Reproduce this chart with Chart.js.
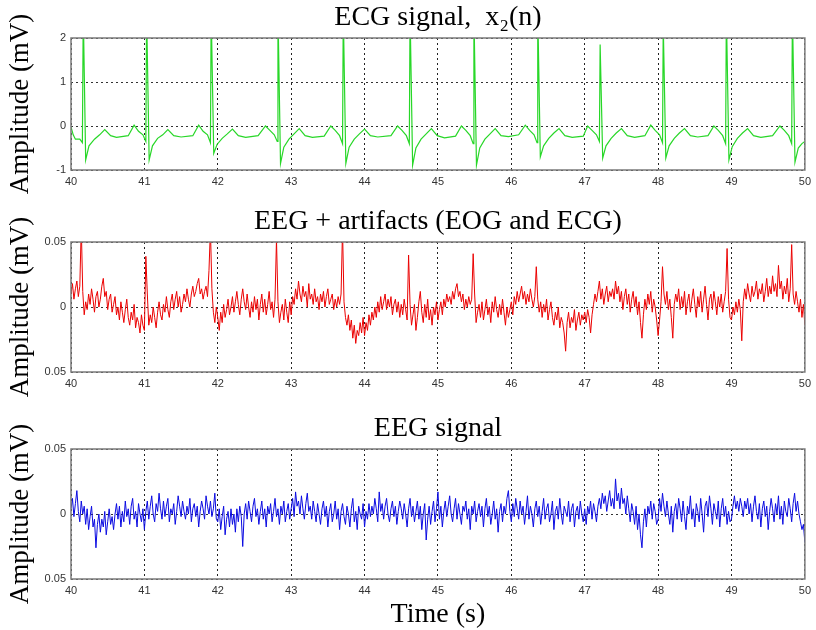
<!DOCTYPE html>
<html>
<head>
<meta charset="utf-8">
<script src="https://cdn.jsdelivr.net/npm/chart.js@4.4.1/dist/chart.umd.min.js"></script>
<style>
  body { margin: 0; background: #fff; }
  canvas { position: absolute; left: 0; }
</style>
</head>
<body>
<canvas id="ecgChart" width="816" height="200" style="top:0"></canvas>
<canvas id="mixChart" width="816" height="200" style="top:200px"></canvas>
<canvas id="eegChart" width="816" height="230" style="top:400px"></canvas>
<script>
// time ticks (s)
const timeTicks = [40, 41, 42, 43, 44, 45, 46, 47, 48, 49, 50];

// ECG signal x2(n): key points (time s, mV)
const ecgTime = [
  40.00, 40.03, 40.06, 40.12, 40.155,
  40.167, 40.20, 40.245, 40.32, 40.39, 40.46, 40.54, 40.62, 40.78,
  40.86, 40.92, 40.98, 41.02, 41.03, 41.065, 41.11, 41.18, 41.25, 41.32, 41.40, 41.50, 41.66,
  41.74, 41.80, 41.86, 41.90, 41.91, 41.945, 41.99, 42.06, 42.13, 42.20, 42.28, 42.38, 42.55,
  42.65, 42.71, 42.77, 42.81, 42.82, 42.855, 42.90, 42.97, 43.04, 43.11, 43.19, 43.29, 43.45,
  43.54, 43.60, 43.66, 43.70, 43.71, 43.745, 43.79, 43.86, 43.93, 44.00, 44.08, 44.18, 44.36,
  44.45, 44.51, 44.57, 44.61, 44.62, 44.655, 44.70, 44.77, 44.84, 44.91, 44.99, 45.09, 45.24,
  45.32, 45.38, 45.44, 45.48, 45.49, 45.525, 45.57, 45.64, 45.71, 45.78, 45.86, 45.96, 46.10,
  46.19, 46.25, 46.31, 46.35, 46.36, 46.395, 46.44, 46.51, 46.58, 46.65, 46.73, 46.83, 46.98,
  47.04, 47.10, 47.16, 47.20, 47.21, 47.245, 47.29, 47.36, 47.43, 47.50, 47.58, 47.68, 47.82,
  47.90, 47.96, 48.02, 48.06, 48.07, 48.105, 48.15, 48.22, 48.29, 48.36, 48.44, 48.54, 48.68,
  48.76, 48.82, 48.88, 48.92, 48.93, 48.965, 49.01, 49.08, 49.15, 49.22, 49.30, 49.40, 49.56,
  49.66, 49.72, 49.78, 49.82, 49.83, 49.865, 49.91, 49.96, 50.00
];
const ecgValues = [
  -0.02, -0.20, -0.30, -0.30, -0.38,
  2.6, -0.77, -0.45, -0.30, -0.20, -0.08, -0.22, -0.26, -0.22,
  0.02, -0.12, -0.20, -0.35, 2.6, -0.77, -0.45, -0.28, -0.20, -0.08, -0.22, -0.25, -0.22,
  0.02, -0.12, -0.20, -0.38, 2.6, -0.62, -0.42, -0.28, -0.18, -0.07, -0.22, -0.26, -0.22,
  0.00, -0.10, -0.20, -0.35, 2.6, -0.85, -0.48, -0.30, -0.18, -0.06, -0.22, -0.26, -0.23,
  0.00, -0.10, -0.22, -0.40, 2.6, -0.85, -0.48, -0.30, -0.18, -0.07, -0.22, -0.25, -0.22,
  0.00, -0.10, -0.22, -0.40, 2.6, -0.89, -0.50, -0.30, -0.18, -0.06, -0.22, -0.27, -0.23,
  0.00, -0.10, -0.22, -0.40, 2.6, -0.89, -0.50, -0.30, -0.18, -0.06, -0.22, -0.24, -0.20,
  0.02, -0.10, -0.20, -0.38, 2.6, -0.70, -0.45, -0.28, -0.16, -0.06, -0.22, -0.26, -0.23,
  0.00, -0.10, -0.20, -0.35, 1.85, -0.73, -0.45, -0.28, -0.16, -0.06, -0.22, -0.26, -0.22,
  0.02, -0.10, -0.20, -0.38, 2.3, -0.73, -0.45, -0.28, -0.16, -0.06, -0.22, -0.25, -0.22,
  0.00, -0.10, -0.22, -0.40, 2.6, -0.77, -0.47, -0.28, -0.16, -0.06, -0.22, -0.26, -0.22,
  0.00, -0.10, -0.22, -0.40, 2.6, -0.82, -0.50, -0.40, -0.35
];

// EEG traces sampled every 0.02 s from 40 s (mV), one row per second
const eegStart = 40;
const eegStep = 0.02;
const eegArtifacts = [
  0.010, 0.018, 0.006, 0.014, 0.020, 0.008, 0.016, 0.062, 0.012, -0.006, 0.004, -0.002, 0.010, 0.002, 0.014, 0.006, -0.004, 0.008, 0.012, 0.000, 0.006, 0.016, 0.022, 0.008, 0.012, -0.002, 0.006, 0.010, -0.004, 0.002, 0.008, -0.006, 0.000, -0.010, 0.004, -0.004, -0.012, -0.002, 0.006, -0.008, -0.014, -0.004, -0.010, 0.002, -0.016, -0.008, -0.012, -0.020, -0.006, -0.014,
  -0.018, 0.039, 0.010, -0.014, -0.006, -0.012, 0.000, -0.008, -0.016, -0.004, 0.004, -0.006, -0.010, 0.002, -0.004, 0.008, -0.002, -0.008, 0.004, 0.010, -0.002, 0.006, 0.012, 0.000, 0.008, -0.004, 0.002, 0.010, 0.004, 0.014, 0.006, 0.000, 0.010, 0.016, 0.008, 0.012, 0.018, 0.022, 0.010, 0.014, 0.006, 0.012, 0.016, 0.008, 0.028, 0.060, 0.014, -0.004, -0.012, 0.000,
  -0.008, -0.018, -0.004, -0.012, 0.002, -0.008, -0.002, 0.006, -0.006, 0.000, 0.008, -0.004, 0.004, 0.012, 0.002, -0.006, 0.006, 0.014, 0.004, -0.002, 0.010, 0.000, -0.008, 0.004, -0.004, 0.008, -0.002, 0.006, -0.010, 0.002, 0.010, -0.004, 0.006, -0.006, 0.002, 0.012, -0.002, 0.004, -0.008, 0.006, 0.052, 0.004, -0.012, -0.004, 0.002, -0.010, 0.006, -0.004, -0.012, 0.004,
  -0.006, 0.008, 0.002, 0.014, 0.006, 0.020, 0.010, 0.004, 0.016, 0.008, 0.012, 0.000, 0.018, 0.006, 0.010, 0.002, 0.014, 0.004, 0.008, -0.002, 0.010, 0.004, 0.012, 0.000, 0.008, 0.014, 0.002, 0.006, 0.010, -0.002, 0.006, 0.000, 0.008, 0.002, 0.010, 0.060, 0.004, -0.008, -0.014, -0.006, -0.018, -0.010, -0.024, -0.014, -0.028, -0.018, -0.022, -0.012, -0.020, -0.008,
  -0.022, -0.012, -0.018, -0.006, -0.014, -0.004, -0.010, 0.000, -0.008, 0.004, -0.004, 0.008, -0.002, 0.004, 0.010, -0.002, 0.006, 0.000, 0.008, -0.006, 0.002, 0.006, -0.004, 0.004, -0.008, 0.002, -0.006, 0.006, -0.002, -0.010, 0.040, 0.002, -0.014, -0.006, 0.002, -0.018, -0.008, 0.004, 0.012, -0.004, -0.012, 0.002, -0.008, 0.006, -0.010, -0.002, -0.014, 0.000, -0.006, 0.004,
  -0.010, -0.002, 0.004, -0.006, 0.006, 0.000, 0.010, 0.004, 0.008, 0.002, 0.012, 0.006, 0.014, 0.018, 0.008, 0.012, 0.004, 0.010, -0.002, 0.006, 0.000, 0.008, 0.002, 0.006, 0.041, 0.010, -0.012, -0.004, 0.002, -0.008, 0.004, -0.010, -0.002, 0.006, -0.006, 0.000, -0.012, 0.004, -0.004, 0.008, -0.002, -0.008, 0.002, -0.006, 0.006, -0.004, -0.014, 0.000, -0.008, -0.002,
  0.004, -0.006, 0.008, 0.002, 0.012, 0.004, 0.010, 0.016, 0.006, 0.012, 0.002, 0.010, 0.004, 0.014, 0.006, 0.000, 0.008, 0.031, 0.006, -0.004, 0.004, -0.008, 0.002, -0.004, 0.006, -0.010, -0.002, 0.004, -0.008, -0.014, -0.004, -0.010, 0.000, -0.016, -0.008, -0.012, -0.020, -0.034, -0.012, -0.004, -0.016, -0.008, -0.012, -0.002, -0.018, -0.010, -0.004, -0.014, -0.006, -0.010,
  -0.004, -0.012, -0.002, -0.008, -0.020, -0.006, 0.002, 0.010, 0.004, 0.012, 0.020, 0.006, 0.014, 0.002, 0.010, 0.016, 0.004, 0.012, 0.008, 0.014, 0.006, 0.020, 0.010, 0.016, 0.004, 0.012, -0.002, 0.008, 0.014, 0.002, 0.010, -0.004, 0.006, 0.012, 0.000, 0.008, -0.006, 0.004, -0.012, -0.024, -0.006, 0.006, -0.002, 0.010, 0.002, 0.012, -0.004, 0.006, 0.000, -0.010,
  -0.022, -0.010, 0.004, 0.031, 0.010, 0.002, 0.012, -0.002, 0.006, -0.008, -0.024, 0.002, 0.010, 0.004, 0.014, -0.002, 0.008, 0.000, 0.012, -0.006, 0.004, 0.010, -0.004, 0.006, 0.014, 0.002, -0.008, 0.008, 0.000, 0.012, -0.004, 0.006, 0.016, 0.002, -0.010, 0.006, 0.010, -0.002, 0.012, 0.004, -0.006, 0.008, 0.000, 0.010, -0.004, 0.004, 0.012, 0.045, 0.006, -0.008,
  -0.010, 0.000, -0.006, 0.004, -0.004, 0.006, -0.002, -0.026, 0.004, 0.014, 0.006, 0.018, 0.010, 0.004, 0.016, 0.008, 0.012, 0.020, 0.006, 0.014, 0.010, 0.018, 0.004, 0.012, 0.022, 0.008, 0.016, 0.010, 0.024, 0.012, 0.018, 0.008, 0.032, 0.014, 0.020, 0.006, 0.016, 0.010, 0.022, 0.004, 0.014, 0.048, 0.010, 0.002, 0.012, 0.004, -0.004, 0.006, -0.008, 0.002,
  -0.014
];
const eegClean = [
  0.004, 0.012, -0.002, 0.008, 0.018, 0.002, -0.006, 0.010, 0.000, 0.006, -0.008, 0.004, -0.012, -0.002, 0.006, -0.010, -0.004, -0.026, -0.008, 0.000, -0.014, -0.004, -0.010, 0.002, -0.016, -0.006, 0.004, -0.008, -0.002, -0.012, 0.000, 0.008, -0.004, 0.006, -0.010, 0.002, -0.006, 0.010, -0.002, 0.004, -0.008, 0.006, 0.012, -0.004, 0.002, -0.010, 0.008, 0.000, -0.006, 0.004,
  -0.012, 0.002, 0.010, -0.004, 0.006, 0.014, 0.000, -0.006, 0.008, 0.002, 0.016, 0.004, -0.004, 0.010, -0.002, 0.006, 0.012, -0.006, 0.004, 0.000, 0.008, -0.008, 0.002, 0.014, 0.006, -0.002, 0.010, 0.002, -0.004, 0.006, 0.000, 0.012, -0.006, 0.004, 0.008, -0.002, 0.006, -0.010, 0.002, 0.010, 0.004, -0.004, 0.014, 0.006, 0.000, 0.010, -0.002, 0.004, 0.016, -0.004,
  -0.006, 0.004, -0.012, -0.002, 0.006, -0.016, -0.004, 0.002, -0.010, 0.004, -0.008, 0.000, -0.014, 0.004, -0.006, 0.006, -0.002, -0.025, 0.000, 0.008, -0.004, 0.010, 0.002, -0.006, 0.006, 0.012, -0.002, 0.004, -0.008, 0.002, 0.010, -0.004, 0.004, -0.010, 0.006, 0.000, 0.008, -0.006, 0.002, 0.012, -0.002, 0.004, -0.008, 0.006, 0.000, 0.010, -0.006, 0.002, 0.008, -0.004,
  0.004, 0.012, -0.002, 0.017, 0.006, 0.010, 0.000, 0.014, 0.004, -0.004, 0.008, 0.016, 0.002, 0.006, -0.004, 0.010, 0.002, -0.006, 0.008, 0.000, -0.008, 0.004, 0.010, -0.002, 0.006, -0.010, 0.002, 0.008, -0.006, 0.000, 0.010, -0.004, 0.004, -0.012, 0.002, 0.008, -0.002, -0.008, 0.006, 0.000, -0.010, 0.004, 0.012, -0.006, 0.002, -0.012, 0.006, 0.000, -0.004, 0.008,
  -0.010, 0.002, -0.004, 0.008, -0.002, 0.006, 0.000, 0.012, 0.004, -0.006, 0.017, 0.002, 0.008, -0.004, 0.006, 0.012, 0.000, -0.006, 0.004, 0.010, -0.002, 0.006, -0.008, 0.002, 0.010, 0.004, -0.004, 0.008, 0.000, -0.010, 0.004, 0.012, -0.002, 0.006, -0.006, 0.002, 0.010, -0.004, 0.006, -0.012, 0.000, 0.008, -0.020, -0.004, 0.006, -0.008, 0.002, 0.010, -0.006, 0.004,
  0.017, -0.004, 0.006, -0.010, 0.002, 0.010, -0.002, 0.006, 0.014, 0.000, -0.006, 0.004, 0.012, -0.004, 0.008, 0.000, -0.008, 0.006, 0.002, 0.010, -0.004, 0.004, -0.012, 0.006, 0.000, 0.010, -0.006, 0.002, 0.008, -0.002, 0.006, -0.010, 0.004, 0.012, -0.002, 0.006, -0.008, 0.000, 0.010, -0.004, 0.004, -0.014, 0.002, 0.008, -0.006, 0.006, 0.000, 0.012, 0.018, 0.002,
  -0.006, 0.008, -0.002, 0.012, 0.004, -0.004, 0.010, 0.000, 0.006, -0.008, 0.002, 0.014, -0.004, 0.006, 0.000, -0.010, 0.004, 0.010, -0.002, 0.006, -0.008, 0.002, 0.012, -0.004, 0.004, 0.008, -0.006, 0.000, 0.010, -0.012, 0.002, 0.006, -0.004, 0.012, 0.000, -0.008, 0.006, 0.002, -0.002, 0.010, -0.006, 0.004, 0.008, -0.010, 0.002, 0.006, -0.004, 0.010, 0.000, -0.006,
  0.004, -0.008, 0.006, 0.000, 0.010, -0.004, 0.008, 0.002, -0.006, 0.006, 0.012, 0.004, 0.016, 0.008, 0.014, 0.002, 0.010, 0.018, 0.006, 0.012, 0.004, 0.027, 0.010, 0.016, 0.004, 0.020, 0.008, 0.012, 0.000, 0.014, 0.004, -0.006, 0.008, 0.002, -0.008, 0.006, -0.012, 0.000, -0.016, -0.026, -0.006, 0.004, -0.010, 0.006, 0.000, 0.010, -0.004, 0.008, 0.002, -0.008,
  -0.004, 0.012, 0.002, 0.016, 0.006, -0.002, 0.010, 0.000, -0.008, 0.006, -0.014, 0.002, 0.008, -0.004, 0.012, 0.004, -0.006, 0.010, -0.002, -0.012, 0.006, 0.000, 0.014, -0.004, 0.004, -0.010, 0.008, 0.002, -0.006, 0.012, 0.000, -0.014, 0.006, 0.010, -0.002, 0.014, 0.004, -0.008, 0.008, 0.002, -0.004, 0.010, -0.010, 0.004, 0.012, -0.002, 0.006, -0.008, 0.002, -0.006,
  -0.004, 0.006, 0.014, 0.004, 0.010, 0.002, 0.012, 0.006, -0.002, 0.010, 0.004, 0.012, 0.000, 0.008, -0.006, 0.006, 0.014, 0.002, -0.004, 0.008, -0.010, 0.004, 0.010, -0.002, 0.006, -0.012, 0.002, 0.012, 0.004, -0.006, 0.008, 0.000, 0.014, -0.004, 0.006, -0.008, 0.010, 0.002, -0.002, 0.012, 0.004, -0.006, 0.008, 0.016, 0.002, 0.010, 0.000, -0.006, -0.012, -0.008,
  -0.022
];

const serif = "'Liberation Serif', 'Times New Roman', serif";
const sans = "'Liberation Sans', Arial, sans-serif";

// box round the plot area (matlab style)
const framePlugin = {
  id: 'frame',
  afterDraw(chart) {
    const { ctx, chartArea: a } = chart;
    ctx.save();
    ctx.strokeStyle = '#7a7a7a';
    ctx.lineWidth = 1.5;
    ctx.strokeRect(a.left, a.top, a.right - a.left, a.bottom - a.top);
    ctx.restore();
  }
};

function makePanel(id, cfg) {
  return new Chart(document.getElementById(id), {
    type: 'line',
    data: {
      datasets: [{
        data: cfg.points,
        borderColor: cfg.color,
        borderWidth: cfg.lineWidth,
        pointRadius: 0,
        tension: 0
      }]
    },
    options: {
      responsive: false,
      animation: false,
      events: [],
      layout: { padding: { left: 0, right: 7, top: 0, bottom: 0 } },
      plugins: {
        legend: { display: false },
        tooltip: { enabled: false },
        title: {
          display: true,
          text: cfg.title,
          fullSize: false,
          color: '#000',
          font: { family: serif, size: 28, weight: 'normal', lineHeight: 1.2 },
          padding: cfg.titlePad
        }
      },
      scales: {
        x: {
          type: 'linear',
          min: 40,
          max: 50,
          afterBuildTicks: (scale) => { scale.ticks = timeTicks.map(v => ({ value: v })); },
          afterFit: (scale) => { scale.height = cfg.xHeight; },
          ticks: { color: '#333', font: { family: sans, size: 11 }, padding: 5, maxRotation: 0 },
          grid: { color: '#222', drawTicks: false },
          border: { display: false, dash: [2, 3] },
          title: cfg.xTitle ? {
            display: true,
            text: cfg.xTitle,
            color: '#000',
            font: { family: serif, size: 28, lineHeight: 1 },
            padding: { top: 0, bottom: 1 }
          } : { display: false }
        },
        y: {
          min: cfg.yMin,
          max: cfg.yMax,
          afterBuildTicks: (scale) => { scale.ticks = cfg.yTicks.map(v => ({ value: v })); },
          afterFit: (scale) => { scale.width = 71; },
          ticks: {
            color: '#333',
            font: { family: sans, size: 11 },
            padding: 5,
            callback: cfg.yLabel
          },
          grid: { color: '#333', drawTicks: false },
          border: { display: false, dash: [2, 3] },
          title: {
            display: true,
            text: 'Amplitude (mV)',
            color: '#000',
            font: { family: serif, size: 27, lineHeight: 1.2 },
            padding: { top: 5, bottom: 0 }
          }
        }
      }
    },
    plugins: [framePlugin]
  });
}

const eegLabel = (v) => (Math.abs(v) < 1e-9 ? '0' : Math.abs(v).toFixed(2));

makePanel('ecgChart', {
  title: 'ECG signal,  x\u2082(n)',
  titlePad: { top: 1.2, bottom: 3.2 },
  points: ecgTime.map((t, i) => ({ x: t, y: ecgValues[i] })),
  color: 'rgb(40, 215, 40)',
  lineWidth: 1.2,
  yMin: -1, yMax: 2,
  yTicks: [-1, 0, 1, 2],
  yLabel: (v) => String(v),
  xHeight: 30
});

makePanel('mixChart', {
  title: 'EEG + artifacts (EOG and ECG)',
  titlePad: { top: 5.2, bottom: 3.2 },
  points: eegArtifacts.map((v, i) => ({ x: eegStart + i * eegStep, y: v })),
  color: 'rgb(235, 0, 0)',
  lineWidth: 1,
  yMin: -0.05, yMax: 0.05,
  yTicks: [-0.05, 0, 0.05],
  yLabel: eegLabel,
  xHeight: 28
});

makePanel('eegChart', {
  title: 'EEG signal',
  titlePad: { top: 12.2, bottom: 3.2 },
  points: eegClean.map((v, i) => ({ x: eegStart + i * eegStep, y: v })),
  color: 'rgb(10, 10, 225)',
  lineWidth: 1,
  yMin: -0.05, yMax: 0.05,
  yTicks: [-0.05, 0, 0.05],
  yLabel: eegLabel,
  xHeight: 51,
  xTitle: 'Time (s)'
});
</script>
</body>
</html>
